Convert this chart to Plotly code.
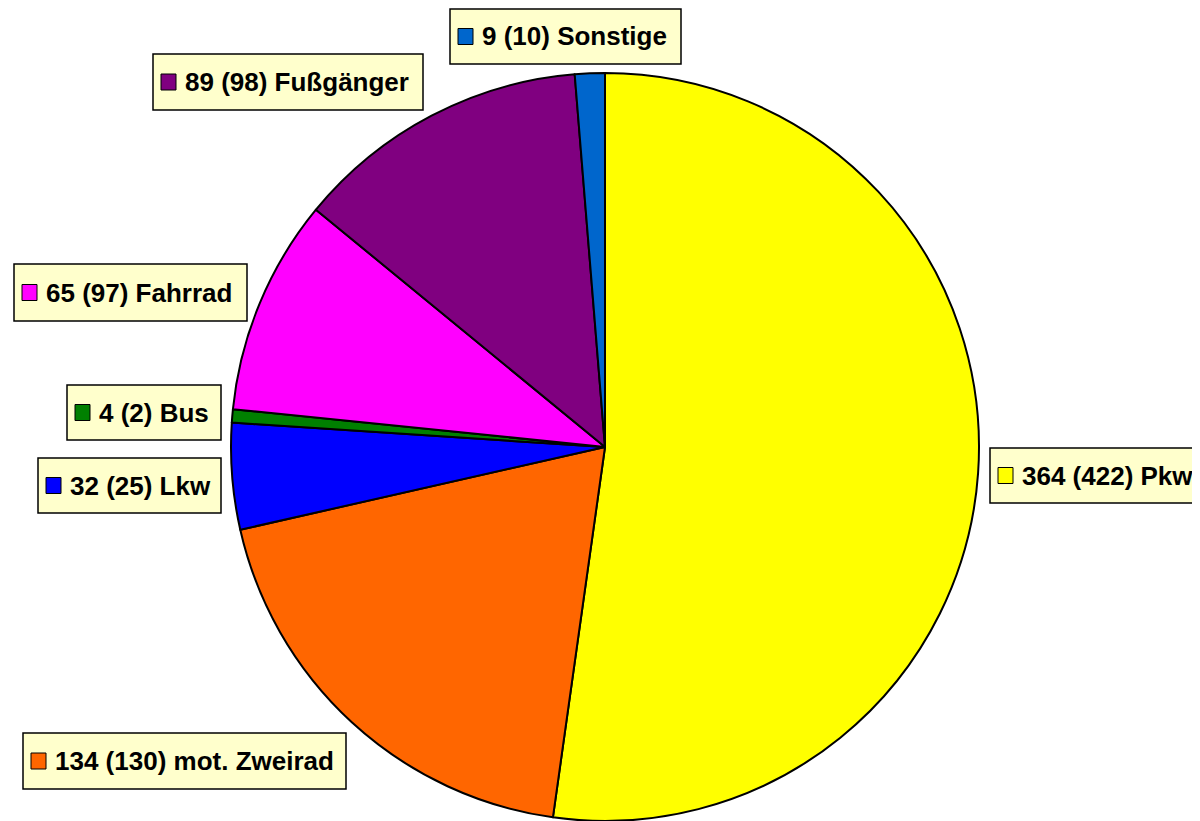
import plotly.graph_objects as go

OFF = 8  # browser body margin
W, H = 1200 - OFF, 821 - OFF

categories = ["Pkw", "mot. Zweirad", "Lkw", "Bus", "Fahrrad", "Fußgänger", "Sonstige"]
values = [364, 134, 32, 4, 65, 89, 9]
previous = [422, 130, 25, 2, 97, 98, 10]
colors = ["#FFFF00", "#FF6600", "#0000FF", "#008000", "#FF00FF", "#800080", "#0066CC"]

# label boxes in screen pixel coords (x0, y0, x1, y1)
boxes = {
    "Pkw": (990, 448, 1215, 503),
    "mot. Zweirad": (23, 733, 346, 789),
    "Lkw": (38, 458, 221, 513),
    "Bus": (67, 385, 221, 440),
    "Fahrrad": (14, 264, 247, 321),
    "Fußgänger": (153, 54, 423, 110),
    "Sonstige": (450, 9, 681, 64),
}

def px(x):
    return (x - OFF) / W

def py(y):
    return 1 - (y - OFF) / H

fig = go.Figure()
fig.add_trace(go.Pie(
    labels=categories,
    values=values,
    sort=False,
    direction="clockwise",
    rotation=0,
    marker=dict(colors=colors, line=dict(color="black", width=2)),
    textinfo="none",
    hoverinfo="label+value",
    showlegend=False,
    domain=dict(x=[px(230), px(980)], y=[0, py(73)]),
))

shapes = []
annotations = []
for name, val, prev, col in zip(categories, values, previous, colors):
    x0, y0, x1, y1 = boxes[name]
    shapes.append(dict(type="rect", xref="paper", yref="paper",
                       x0=px(x0), x1=px(x1), y0=py(y1), y1=py(y0),
                       fillcolor="#FFFFCC", line=dict(color="black", width=1.5), layer="above"))
    yc = (y0 + y1) / 2
    sx0 = x0 + 8
    shapes.append(dict(type="rect", xref="paper", yref="paper",
                       x0=px(sx0), x1=px(sx0 + 15), y0=py(yc + 8), y1=py(yc - 8),
                       fillcolor=col, line=dict(color="black", width=1), layer="above"))
    annotations.append(dict(xref="paper", yref="paper", x=px(sx0 + 22), y=py(yc),
                            xanchor="left", yanchor="middle", showarrow=False,
                            text=f"<b>{val} ({prev}) {name}</b>",
                            font=dict(family="Liberation Sans, Arial, sans-serif", size=26, color="black")))

fig.update_layout(
    width=W, height=H,
    margin=dict(l=0, r=0, t=0, b=0),
    paper_bgcolor="white", plot_bgcolor="white",
    shapes=shapes, annotations=annotations,
)

fig.write_html("out.html")
